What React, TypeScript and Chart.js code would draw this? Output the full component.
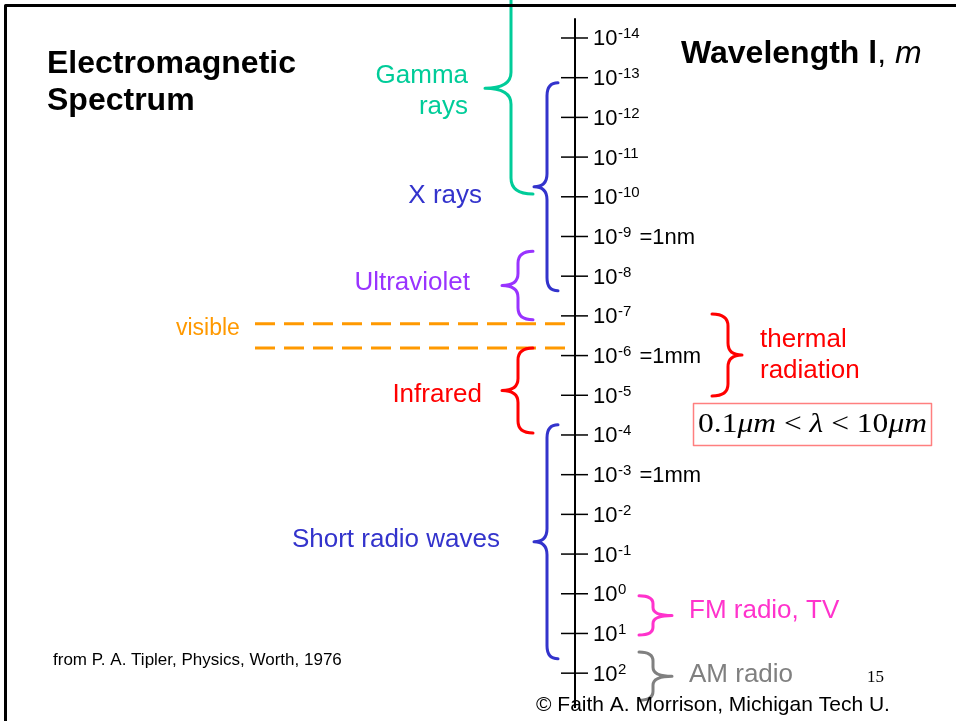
import { useEffect, useRef } from "react";
import { Chart, registerables } from "chart.js";

Chart.register(...registerables);

// ---- data ----
const tickExponents = [-14, -13, -12, -11, -10, -9, -8, -7, -6, -5, -4, -3, -2, -1, 0, 1, 2];
const tickNotes = ["", "", "", "", "", "=1nm", "", "", "=1mm", "", "", "=1mm", "", "", "", "", ""];

const bandNames = ["Gamma\nrays", "X rays", "Ultraviolet", "Infrared", "Short radio waves", "thermal\nradiation", "FM radio, TV", "AM radio"];
const bandFrom = [-15.4, -12.87, -8.63, -6.19, -4.26, -7.05, 0.05, 1.47];
const bandTo = [-10.07, -7.63, -6.9, -4.05, 1.64, -4.98, 1.04, 2.68];
const bandColors = ["#00CC99", "#3333CC", "#9933FF", "#FF0000", "#3333CC", "#FF0000", "#FF33CC", "#808080"];

const visibleEdges = [-6.8, -6.19];
const axisExtent = [-14.5, 2.88];

// ---- layout (styles / positions, not data) ----
const Y_MIN = -14.957;
const Y_MAX = 3.205;
const AXIS_X = 575;
const VISIBLE_X0 = 255;
// [endX, spineX, tipX, curlH, labelX, labelDy, align]
const braceLayout: [number, number, number, number, number, number, CanvasTextAlign][] = [
  [533, 511, 485, 16, 468, -5, "right"],
  [558, 547, 534, 13, 482, 16, "right"],
  [533, 518, 502, 12, 470, 4.5, "right"],
  [533, 518, 502, 12, 482, 11.5, "right"],
  [558, 547, 534, 13, 500, 5, "right"],
  [712, 728, 742, 12, 760, -8, "left"],
  [639, 653, 672, 8, 689, 2.6, "left"],
  [639, 653, 672, 9, 689, 6, "left"],
];

const SANS = "'Liberation Sans', Arial, sans-serif";
const SERIF = "'Liberation Serif', 'Times New Roman', serif";

function drawBrace(ctx: CanvasRenderingContext2D, yTop: number, yBot: number, endX: number, spineX: number, tipX: number, h: number) {
  const yTip = (yTop + yBot) / 2;
  const hh = Math.min(h, (yBot - yTop) / 4);
  ctx.beginPath();
  ctx.moveTo(endX, yTop);
  ctx.quadraticCurveTo(spineX, yTop, spineX, yTop + hh);
  ctx.lineTo(spineX, yTip - hh);
  ctx.quadraticCurveTo(spineX, yTip, tipX, yTip);
  ctx.quadraticCurveTo(spineX, yTip, spineX, yTip + hh);
  ctx.lineTo(spineX, yBot - hh);
  ctx.quadraticCurveTo(spineX, yBot, endX, yBot);
  ctx.stroke();
}

const spectrumPlugin = {
  id: "spectrumOverlay",
  afterDatasetsDraw(chart: any) {
    const ctx: CanvasRenderingContext2D = chart.ctx;
    const xs = chart.scales.x;
    const ys = chart.scales.y;
    const px = (v: number) => xs.getPixelForValue(v);
    const py = (v: number) => ys.getPixelForValue(v);
    ctx.save();
    ctx.lineJoin = "round";

    // ticks + labels
    ctx.strokeStyle = "#000";
    ctx.lineWidth = 1.5;
    ctx.fillStyle = "#000";
    tickExponents.forEach((e, i) => {
      const y = py(e);
      ctx.beginPath();
      ctx.lineCap = "butt";
      ctx.moveTo(px(AXIS_X - 14), y);
      ctx.lineTo(px(AXIS_X + 13), y);
      ctx.stroke();
      let x = px(AXIS_X + 18);
      ctx.textAlign = "left";
      ctx.textBaseline = "alphabetic";
      ctx.font = `22px ${SANS}`;
      ctx.fillText("10", x, y + 7.5);
      x += ctx.measureText("10").width + 0.5;
      ctx.font = `15px ${SANS}`;
      const sup = String(e);
      ctx.fillText(sup, x, y + 0.5);
      x += ctx.measureText(sup).width;
      if (tickNotes[i]) {
        ctx.font = `22px ${SANS}`;
        ctx.fillText(" " + tickNotes[i], x + 2, y + 7.5);
      }
    });

    // braces
    ctx.lineCap = "round";
    ctx.lineWidth = 3;
    bandNames.forEach((name, i) => {
      const [endX, spineX, tipX, h, labelX, labelDy, align] = braceLayout[i];
      ctx.strokeStyle = bandColors[i];
      const yTop = py(bandFrom[i]);
      const yBot = py(bandTo[i]);
      drawBrace(ctx, yTop, yBot, px(endX), px(spineX), px(tipX), h);
      ctx.fillStyle = bandColors[i];
      ctx.font = `26px ${SANS}`;
      ctx.textAlign = align;
      const yTip = (yTop + yBot) / 2;
      name.split("\n").forEach((line, k) => {
        ctx.fillText(line, px(labelX), yTip + labelDy + k * 31);
      });
    });

    // visible label
    ctx.fillStyle = "#FF9900";
    ctx.font = `23px ${SANS}`;
    ctx.textAlign = "left";
    ctx.fillText("visible", 176, py(visibleEdges[0]) + 11);

    // title
    ctx.fillStyle = "#000";
    ctx.font = `bold 32px ${SANS}`;
    ctx.fillText("Electromagnetic", 47, 73);
    ctx.fillText("Spectrum", 47, 110);

    // axis title
    let ax = 681;
    ctx.font = `bold 32px ${SANS}`;
    ctx.fillText("Wavelength l", ax, 63);
    ax += ctx.measureText("Wavelength l").width;
    ctx.font = `32px ${SANS}`;
    ctx.fillText(", ", ax, 63);
    ax += ctx.measureText(", ").width;
    ctx.font = `italic 32px ${SANS}`;
    ctx.fillText("m", ax, 63);

    // formula box
    ctx.strokeStyle = "#FF7F7F";
    ctx.lineWidth = 1.5;
    ctx.strokeRect(693.5, 403.5, 238, 42);
    const pieces: [string, boolean][] = [["0.1", false], ["\u03BCm", true], [" < ", false], ["\u03BB", true], [" < ", false], ["10", false], ["\u03BCm", true]];
    let total = 0;
    pieces.forEach(([t, it]) => {
      ctx.font = `${it ? "italic " : ""}27px ${SERIF}`;
      total += ctx.measureText(t).width;
    });
    const sx = 229 / total;
    ctx.save();
    ctx.translate(698, 432);
    ctx.scale(sx, 1);
    ctx.fillStyle = "#000";
    let fx = 0;
    pieces.forEach(([t, it]) => {
      ctx.font = `${it ? "italic " : ""}27px ${SERIF}`;
      ctx.fillText(t, fx, 0);
      fx += ctx.measureText(t).width;
    });
    ctx.restore();

    // footers
    ctx.fillStyle = "#000";
    ctx.font = `17px ${SANS}`;
    ctx.fillText("from P. A. Tipler, Physics, Worth, 1976", 53, 665);
    ctx.font = `21px ${SANS}`;
    ctx.fillText("\u00A9 Faith A. Morrison, Michigan Tech U.", 536, 711);
    ctx.font = `17px ${SERIF}`;
    ctx.fillText("15", 867, 682);

    // frame
    ctx.strokeStyle = "#000";
    ctx.lineWidth = 3;
    ctx.lineCap = "butt";
    ctx.beginPath();
    ctx.moveTo(5.5, 721);
    ctx.lineTo(5.5, 5.5);
    ctx.lineTo(956, 5.5);
    ctx.stroke();
    ctx.restore();
  },
};

export default function App() {
  const ref = useRef<HTMLCanvasElement | null>(null);
  useEffect(() => {
    if (!ref.current) return;
    const chart = new Chart(ref.current, {
      type: "scatter",
      data: {
        datasets: [
          {
            label: "axis",
            data: [{ x: AXIS_X, y: axisExtent[0] }, { x: AXIS_X, y: axisExtent[1] }],
            showLine: true,
            borderColor: "#000",
            borderWidth: 2,
            pointRadius: 0,
          },
          ...visibleEdges.map((e) => ({
            label: "visible",
            data: [{ x: VISIBLE_X0, y: e }, { x: AXIS_X, y: e }],
            showLine: true,
            borderColor: "#FF9900",
            borderWidth: 3,
            borderDash: [20, 9],
            pointRadius: 0,
          })),
        ],
      },
      options: {
        animation: false,
        responsive: false,
        devicePixelRatio: 1,
        layout: { padding: 0 },
        plugins: { legend: { display: false }, tooltip: { enabled: false }, title: { display: false } },
        scales: {
          x: { type: "linear", min: 0, max: 956, display: false },
          y: { type: "linear", min: Y_MIN, max: Y_MAX, reverse: true, display: false },
        },
      },
      plugins: [spectrumPlugin],
    });
    return () => chart.destroy();
  }, []);
  return (
    <div style={{ position: "fixed", left: 0, top: 0, width: 956, height: 721, background: "#fff" }}>
      <canvas ref={ref} width={956} height={721} style={{ display: "block" }} />
    </div>
  );
}
